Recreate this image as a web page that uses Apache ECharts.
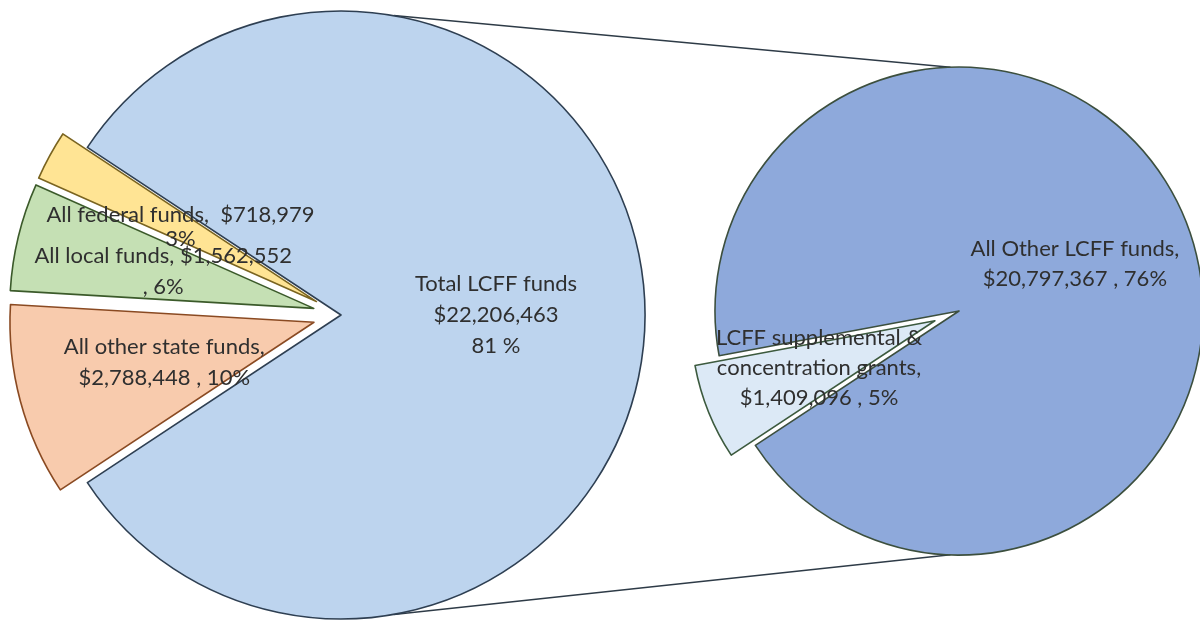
<!DOCTYPE html>
<html>
<head>
<meta charset="utf-8">
<script src="https://cdn.jsdelivr.net/npm/echarts@6/dist/echarts.min.js"></script>
<style>
  html, body { margin: 0; padding: 0; background: #ffffff; }
  #chart { width: 1200px; height: 620px; }
</style>
</head>
<body>
<div id="chart"></div>
<script>
// ---- data ----
const mainNames = ['Total LCFF funds', 'All other state funds', 'All local funds', 'All federal funds'];
const mainValues = [22206463, 2788448, 1562552, 718979];
const mainLabels = [
  'Total LCFF funds\n$22,206,463\n81 %',
  'All other state funds,\n$2,788,448 , 10%',
  'All local funds, $1,562,552\n, 6%',
  'All federal funds,  $718,979\n3%'
];
const subNames = ['All Other LCFF funds', 'LCFF supplemental & concentration grants'];
const subValues = [20797367, 1409096];
const subLabels = [
  'All Other LCFF funds,\n$20,797,367 , 76%',
  'LCFF supplemental &\nconcentration grants,\n$1,409,096 , 5%'
];

// ---- styles ----
const mainColors = ['#BDD4EE', '#F8CBAD', '#C5E0B4', '#FFE494'];
const mainBorders = ['#2E3F52', '#8A4A22', '#3B5A2A', '#7A6420'];
const subColors = ['#8EA9DB', '#DCE9F6'];
const subBorders = ['#3C4F3E', '#3C5A3E'];

const L = { cx: 341, cy: 315, r: 304 };
const R = { cx: 959, cy: 311, r: 244 };

const font = 'Lato, "Liberation Sans", sans-serif';

const mainSum = mainValues.reduce((a, b) => a + b, 0);
const smallShare = (mainSum - mainValues[0]) / mainSum * 360;   // degrees of the exploded group
const mainStart = 180 - smallShare / 2;                          // group centred on the left side
const subSum = subValues.reduce((a, b) => a + b, 0);
const supShare = subValues[1] / subSum * 360;
const subStart = 202 - supShare / 2;                             // small slice centred at ~202°

const chart = echarts.init(document.getElementById('chart'), null, { renderer: 'canvas' });

const mainLabelTweaks = [{}, {}, {}, { offset: [0, 9], lineHeight: 24 }];
const mainData = mainNames.map((n, i) => ({
  name: n,
  value: mainValues[i],
  selected: i > 0,
  itemStyle: { color: mainColors[i], borderColor: mainBorders[i] },
  label: Object.assign({ formatter: mainLabels[i] }, mainLabelTweaks[i])
}));
const subData = subNames.map((n, i) => ({
  name: n,
  value: subValues[i],
  selected: i === 1,
  itemStyle: { color: subColors[i], borderColor: subBorders[i] },
  label: { formatter: subLabels[i] }
}));

function rad(d) { return d * Math.PI / 180; }
function pt(c, ang) { return [c.cx + c.r * Math.cos(rad(ang)), c.cy - c.r * Math.sin(rad(ang))]; }
const topL = pt(L, 80), topR = pt(R, 92), botL = pt(L, -80), botR = pt(R, -92);

const labelBase = {
  show: true,
  position: 'inside',
  color: '#2f2f2f',
  fontFamily: font,
  fontSize: 22,
  lineHeight: 31,
  align: 'center'
};

chart.setOption({
  animation: false,
  backgroundColor: '#ffffff',
  graphic: [
    { type: 'line', z: 0, shape: { x1: topL[0], y1: topL[1], x2: topR[0], y2: topR[1] }, style: { stroke: '#2E3B47', lineWidth: 1.5 } },
    { type: 'line', z: 0, shape: { x1: botL[0], y1: botL[1], x2: botR[0], y2: botR[1] }, style: { stroke: '#2E3B47', lineWidth: 1.5 } }
  ],
  series: [
    {
      type: 'pie',
      center: [L.cx, L.cy],
      radius: [0, L.r],
      startAngle: mainStart,
      clockwise: true,
      selectedMode: 'multiple',
      selectedOffset: 28,
      avoidLabelOverlap: false,
      labelLayout: { hideOverlap: false },
      itemStyle: { borderWidth: 1.6 },
      label: labelBase,
      labelLine: { show: false },
      emphasis: { disabled: true },
      data: mainData
    },
    {
      type: 'pie',
      center: [R.cx, R.cy],
      radius: [0, R.r],
      startAngle: subStart,
      clockwise: true,
      selectedMode: 'multiple',
      selectedOffset: 26,
      avoidLabelOverlap: false,
      labelLayout: { hideOverlap: false },
      itemStyle: { borderWidth: 1.6 },
      label: Object.assign({}, labelBase, { lineHeight: 30 }),
      labelLine: { show: false },
      emphasis: { disabled: true },
      data: subData
    }
  ]
});
</script>
</body>
</html>
